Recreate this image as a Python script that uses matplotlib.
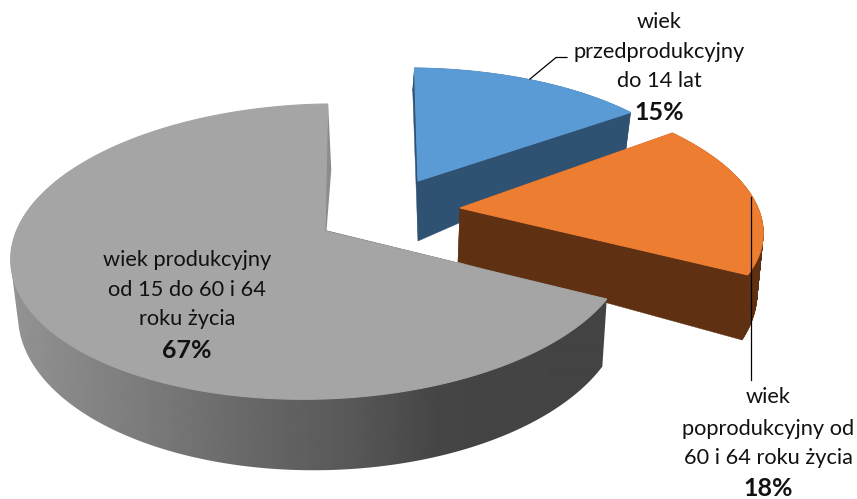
import numpy as np
import matplotlib
matplotlib.use("Agg")
import matplotlib.pyplot as plt
from matplotlib.collections import PolyCollection
from matplotlib.patches import Polygon

# ---- data ----
categories = ["wiek przedprodukcyjny do 14 lat",
              "wiek poprodukcyjny od 60 i 64 roku życia",
              "wiek produkcyjny od 15 do 60 i 64 roku życia"]
shares = [15, 18, 67]
percent_labels = ["15%", "18%", "67%"]
label_lines = [["wiek", "przedprodukcyjny", "do 14 lat"],
               ["wiek", "poprodukcyjny od", "60 i 64 roku życia"],
               ["wiek produkcyjny", "od 15 do 60 i 64", "roku życia"]]

# ---- styling / geometry ----
plt.rcParams['font.family'] = ['Lato', 'DejaVu Sans']
W, H = 857, 499
fig = plt.figure(figsize=(W / 100, H / 100), dpi=100)
ax = fig.add_axes([0, 0, 1, 1])

# each plane: centre x, centre y, R, R*k, perspective p, perspective q, x shear h, y shear g
geom = [
    dict(top=(418, 181, 293, 128.7, .139, .028, 4, 0),
         bot=(418, 241, 288, 171, .139, .028, 6, 0),
         topc="#5B9BD5", side="#2F5272"),
    dict(top=(460, 208, 298, 133.5, .08, 0, 32, 0),
         bot=(458, 262, 294, 155.6, .08, 0, 32, 0),
         topc="#ED7D31", side="#5F3112"),
    dict(top=(325, 231, 306, 144.7, .139, .0154, -3, -6),
         bot=(326, 289, 300, 156, .139, .015, -3, -2),
         topc="#A5A5A5", side=None),
]


def project(theta, P, r=1.0):
    cx, cy, R, Rk, p, q, h, g = P
    u, v = r * np.sin(theta), -r * np.cos(theta)
    s = 1 / (1 - p * v + q * u)
    return np.column_stack([cx + s * (R * u + h * v), cy + s * (Rk * v + g * u)])


def gray_side(x):
    return np.interp(x, [10, 60, 150, 250, 350, 440, 610],
                     [0x94, 0x8A, 0x7A, 0x68, 0x58, 0x45, 0x43]) / 255


def hull(points):
    pts = sorted(map(tuple, points))

    def half(seq):
        out = []
        for p in seq:
            while len(out) > 1 and ((out[-1][0] - out[-2][0]) * (p[1] - out[-2][1])
                                    - (out[-1][1] - out[-2][1]) * (p[0] - out[-2][0])) <= 0:
                out.pop()
            out.append(p)
        return out[:-1]

    return np.array(half(pts) + half(pts[::-1]))


edges = np.cumsum([0] + shares) / sum(shares) * 2 * np.pi
zorder = 2
for i, g in enumerate(geom):
    th = np.linspace(edges[i], edges[i + 1], 240)
    top = project(th, g["top"])
    bot = project(th, g["bot"])
    ctop = project(np.array([0.0]), g["top"], 0.0)
    cbot = project(np.array([0.0]), g["bot"], 0.0)

    # outer wall
    if g["side"]:
        quads = [np.array([top[j], top[j + 1], bot[j + 1], bot[j]]) for j in range(len(th) - 1)]
        ax.add_collection(PolyCollection(quads, facecolors=g["side"], edgecolors=g["side"],
                                         linewidths=0.4, zorder=zorder))
    else:
        front = th <= np.radians(300)
        wall = Polygon(hull(np.vstack([top[front], bot[front]])), closed=True,
                       transform=ax.transData, facecolor="none", edgecolor="none")
        ax.add_patch(wall)
        xs = np.arange(0, W)
        im = ax.imshow(gray_side(xs)[None, :], extent=(0, W, H, 0), cmap="gray", vmin=0, vmax=1,
                       aspect="auto", interpolation="bilinear", zorder=zorder)
        im.set_clip_path(wall)
    # cut faces
    if g["side"]:
        for e, b in ((top[0], bot[0]), (top[-1], bot[-1])):
            ax.fill([ctop[0, 0], e[0], b[0], cbot[0, 0]], [ctop[0, 1], e[1], b[1], cbot[0, 1]],
                    color=g["side"], lw=0.3, zorder=zorder)
    else:
        rr = project(np.array([edges[i + 1]]), g["top"], 0.45)
        ax.fill([top[-1, 0] + 0.5, rr[0, 0] + 5, ctop[0, 0] + 1.5, ctop[0, 0] - 3],
                [top[-1, 1], rr[0, 1], ctop[0, 1], ctop[0, 1] - 2],
                color="#8C8C8C", lw=0, zorder=zorder)
    # top face
    poly = np.vstack([ctop, top])
    ax.fill(poly[:, 0], poly[:, 1], color=g["topc"], lw=0.8, zorder=zorder + 0.5)
    zorder += 1

# leader lines
ax.plot([530, 556, 567], [79, 57.5, 57.5], color="black", lw=0.9, zorder=10)
ax.plot([751, 751], [197, 380], color="black", lw=0.9, zorder=10)

# labels
label_pos = [(659, [22, 52, 81], 112),
             (768, [397, 429, 458], 489),
             (187, [260, 290, 319], 351)]
for lines, pct, (x, ys, yp) in zip(label_lines, percent_labels, label_pos):
    for t, y in zip(lines, ys):
        ax.text(x, y, t, ha="center", va="center", fontsize=15.7, color="#111111", zorder=11)
    ax.text(x, yp, pct, ha="center", va="center", fontsize=18, fontweight="bold",
            color="#111111", zorder=11)

ax.set_xlim(0, W)
ax.set_ylim(H, 0)
ax.axis("off")
fig.savefig("out.png", dpi=100)
